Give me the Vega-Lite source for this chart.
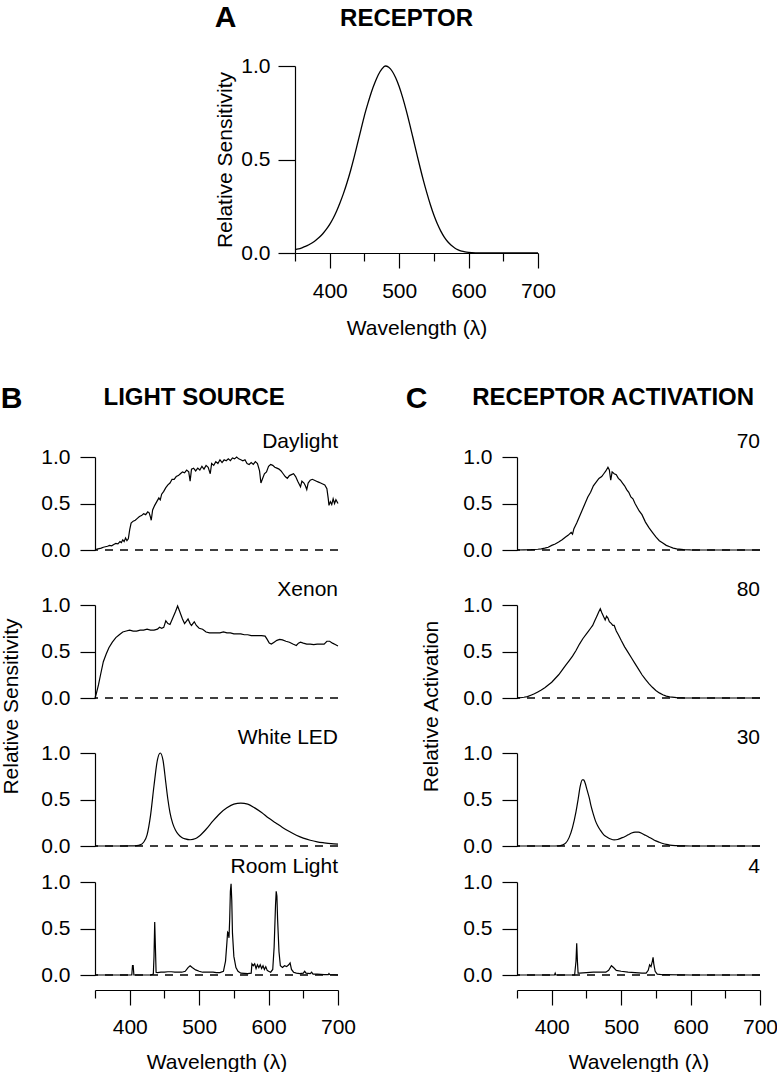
{
"$schema": "https://vega.github.io/schema/vega-lite/v6.json",
"padding": {"top": 3, "left": 0, "right": 0, "bottom": 0},
"config": {
  "font": "Liberation Sans",
  "view": {"stroke": null},
  "axis": {"domainColor": "#000", "tickColor": "#000", "labelColor": "#000", "titleColor": "#000", "labelFont": "Liberation Sans", "titleFont": "Liberation Sans", "labelFontSize": 21, "titleFontSize": 21, "titleFontWeight": "normal", "grid": false, "domainWidth": 1.2, "tickWidth": 1.2, "labelFlush": false, "labelOverlap": false},
  "axisY": {"tickSize": 15, "labelPadding": 10},
  "title": {"font": "Liberation Sans", "color": "#000", "fontSize": 21, "fontWeight": "normal"}
},
"datasets": {
  "receptor": [{"w":350,"v":0.018},{"w":355,"v":0.022},{"w":360,"v":0.028},{"w":365,"v":0.035},{"w":370,"v":0.044},{"w":375,"v":0.055},{"w":380,"v":0.068},{"w":385,"v":0.084},{"w":390,"v":0.103},{"w":395,"v":0.126},{"w":400,"v":0.153},{"w":405,"v":0.186},{"w":410,"v":0.225},{"w":415,"v":0.27},{"w":420,"v":0.32},{"w":425,"v":0.377},{"w":430,"v":0.44},{"w":435,"v":0.51},{"w":440,"v":0.585},{"w":445,"v":0.66},{"w":450,"v":0.735},{"w":455,"v":0.8},{"w":460,"v":0.86},{"w":465,"v":0.91},{"w":470,"v":0.953},{"w":475,"v":0.983},{"w":480,"v":1.0},{"w":485,"v":0.993},{"w":490,"v":0.972},{"w":495,"v":0.937},{"w":500,"v":0.89},{"w":505,"v":0.832},{"w":510,"v":0.765},{"w":515,"v":0.692},{"w":520,"v":0.615},{"w":525,"v":0.537},{"w":530,"v":0.46},{"w":535,"v":0.387},{"w":540,"v":0.32},{"w":545,"v":0.258},{"w":550,"v":0.203},{"w":555,"v":0.156},{"w":560,"v":0.117},{"w":565,"v":0.085},{"w":570,"v":0.06},{"w":575,"v":0.041},{"w":580,"v":0.027},{"w":585,"v":0.017},{"w":590,"v":0.01},{"w":595,"v":0.006},{"w":600,"v":0.0035},{"w":610,"v":0.001},{"w":620,"v":0.0003},{"w":650,"v":0},{"w":700,"v":0}],
  "daylight": [{"w":350,"v":0.0},{"w":353,"v":0.01},{"w":356,"v":0.015},{"w":359,"v":0.02},{"w":362,"v":0.03},{"w":365,"v":0.035},{"w":368,"v":0.04},{"w":371,"v":0.05},{"w":374,"v":0.045},{"w":377,"v":0.06},{"w":380,"v":0.07},{"w":383,"v":0.065},{"w":386,"v":0.09},{"w":388,"v":0.08},{"w":390,"v":0.11},{"w":392,"v":0.09},{"w":394,"v":0.13},{"w":396,"v":0.1},{"w":398,"v":0.12},{"w":400,"v":0.22},{"w":402,"v":0.29},{"w":405,"v":0.31},{"w":408,"v":0.32},{"w":411,"v":0.34},{"w":414,"v":0.36},{"w":417,"v":0.37},{"w":420,"v":0.39},{"w":423,"v":0.38},{"w":426,"v":0.41},{"w":428,"v":0.4},{"w":430,"v":0.35},{"w":431,"v":0.32},{"w":433,"v":0.43},{"w":436,"v":0.48},{"w":439,"v":0.52},{"w":442,"v":0.56},{"w":444,"v":0.54},{"w":446,"v":0.6},{"w":449,"v":0.63},{"w":452,"v":0.67},{"w":455,"v":0.7},{"w":458,"v":0.72},{"w":461,"v":0.76},{"w":464,"v":0.76},{"w":467,"v":0.79},{"w":470,"v":0.8},{"w":473,"v":0.82},{"w":476,"v":0.84},{"w":479,"v":0.83},{"w":482,"v":0.86},{"w":485,"v":0.84},{"w":487,"v":0.74},{"w":489,"v":0.87},{"w":492,"v":0.88},{"w":495,"v":0.85},{"w":498,"v":0.88},{"w":501,"v":0.86},{"w":504,"v":0.9},{"w":507,"v":0.87},{"w":510,"v":0.91},{"w":513,"v":0.89},{"w":516,"v":0.82},{"w":518,"v":0.93},{"w":521,"v":0.91},{"w":524,"v":0.95},{"w":527,"v":0.93},{"w":530,"v":0.97},{"w":533,"v":0.94},{"w":536,"v":0.97},{"w":539,"v":0.96},{"w":542,"v":0.98},{"w":545,"v":0.96},{"w":548,"v":0.99},{"w":551,"v":0.98},{"w":554,"v":1.0},{"w":557,"v":0.98},{"w":560,"v":0.97},{"w":563,"v":0.96},{"w":566,"v":0.97},{"w":569,"v":0.93},{"w":572,"v":0.92},{"w":575,"v":0.94},{"w":578,"v":0.92},{"w":581,"v":0.95},{"w":584,"v":0.93},{"w":587,"v":0.85},{"w":589,"v":0.72},{"w":591,"v":0.76},{"w":594,"v":0.82},{"w":597,"v":0.84},{"w":600,"v":0.9},{"w":603,"v":0.92},{"w":606,"v":0.91},{"w":609,"v":0.89},{"w":612,"v":0.88},{"w":615,"v":0.87},{"w":618,"v":0.85},{"w":621,"v":0.82},{"w":624,"v":0.79},{"w":627,"v":0.77},{"w":630,"v":0.8},{"w":633,"v":0.81},{"w":636,"v":0.82},{"w":639,"v":0.79},{"w":642,"v":0.74},{"w":644,"v":0.71},{"w":646,"v":0.68},{"w":648,"v":0.74},{"w":651,"v":0.72},{"w":653,"v":0.69},{"w":655,"v":0.65},{"w":657,"v":0.72},{"w":660,"v":0.75},{"w":663,"v":0.76},{"w":666,"v":0.75},{"w":669,"v":0.74},{"w":672,"v":0.73},{"w":675,"v":0.72},{"w":678,"v":0.71},{"w":681,"v":0.7},{"w":684,"v":0.66},{"w":686,"v":0.55},{"w":687,"v":0.48},{"w":689,"v":0.52},{"w":691,"v":0.49},{"w":693,"v":0.55},{"w":695,"v":0.5},{"w":697,"v":0.54},{"w":700,"v":0.5}],
  "xenon": [{"w":350,"v":0.0},{"w":352,"v":0.05},{"w":355,"v":0.14},{"w":358,"v":0.25},{"w":362,"v":0.39},{"w":366,"v":0.47},{"w":370,"v":0.54},{"w":375,"v":0.6},{"w":380,"v":0.65},{"w":385,"v":0.68},{"w":390,"v":0.71},{"w":395,"v":0.72},{"w":400,"v":0.73},{"w":405,"v":0.72},{"w":410,"v":0.72},{"w":415,"v":0.73},{"w":420,"v":0.73},{"w":425,"v":0.74},{"w":430,"v":0.73},{"w":435,"v":0.73},{"w":440,"v":0.74},{"w":443,"v":0.76},{"w":446,"v":0.75},{"w":449,"v":0.76},{"w":452,"v":0.83},{"w":455,"v":0.8},{"w":458,"v":0.79},{"w":462,"v":0.86},{"w":466,"v":0.93},{"w":469,"v":0.99},{"w":472,"v":0.93},{"w":476,"v":0.85},{"w":479,"v":0.8},{"w":482,"v":0.83},{"w":484,"v":0.85},{"w":487,"v":0.8},{"w":489,"v":0.78},{"w":491,"v":0.8},{"w":493,"v":0.82},{"w":496,"v":0.78},{"w":500,"v":0.75},{"w":505,"v":0.74},{"w":510,"v":0.71},{"w":515,"v":0.7},{"w":520,"v":0.7},{"w":525,"v":0.7},{"w":530,"v":0.7},{"w":535,"v":0.71},{"w":540,"v":0.7},{"w":545,"v":0.7},{"w":550,"v":0.69},{"w":555,"v":0.69},{"w":560,"v":0.69},{"w":565,"v":0.68},{"w":570,"v":0.68},{"w":575,"v":0.67},{"w":580,"v":0.67},{"w":585,"v":0.67},{"w":590,"v":0.67},{"w":595,"v":0.665},{"w":598,"v":0.63},{"w":601,"v":0.59},{"w":604,"v":0.58},{"w":608,"v":0.6},{"w":612,"v":0.62},{"w":616,"v":0.63},{"w":620,"v":0.625},{"w":625,"v":0.61},{"w":630,"v":0.6},{"w":635,"v":0.58},{"w":640,"v":0.565},{"w":643,"v":0.59},{"w":646,"v":0.6},{"w":650,"v":0.59},{"w":655,"v":0.58},{"w":660,"v":0.58},{"w":665,"v":0.575},{"w":670,"v":0.58},{"w":675,"v":0.58},{"w":680,"v":0.58},{"w":684,"v":0.61},{"w":688,"v":0.61},{"w":692,"v":0.59},{"w":696,"v":0.575},{"w":700,"v":0.56}],
  "led": [{"w":350,"v":0},{"w":380,"v":0},{"w":400,"v":0.002},{"w":410,"v":0.005},{"w":415,"v":0.012},{"w":420,"v":0.04},{"w":425,"v":0.12},{"w":430,"v":0.33},{"w":435,"v":0.65},{"w":440,"v":0.93},{"w":444,"v":1.0},{"w":448,"v":0.92},{"w":452,"v":0.68},{"w":455,"v":0.5},{"w":458,"v":0.36},{"w":462,"v":0.24},{"w":466,"v":0.17},{"w":470,"v":0.125},{"w":475,"v":0.092},{"w":480,"v":0.076},{"w":487,"v":0.067},{"w":495,"v":0.08},{"w":500,"v":0.105},{"w":510,"v":0.18},{"w":520,"v":0.27},{"w":530,"v":0.35},{"w":540,"v":0.41},{"w":550,"v":0.45},{"w":560,"v":0.46},{"w":570,"v":0.45},{"w":580,"v":0.41},{"w":590,"v":0.36},{"w":600,"v":0.3},{"w":610,"v":0.25},{"w":620,"v":0.2},{"w":630,"v":0.155},{"w":640,"v":0.115},{"w":650,"v":0.085},{"w":660,"v":0.062},{"w":670,"v":0.045},{"w":680,"v":0.034},{"w":690,"v":0.025},{"w":700,"v":0.02}],
  "room": [{"w":350,"v":0.0},{"w":403,"v":0.0},{"w":404,"v":0.1},{"w":405,"v":0.1},{"w":406,"v":0.0},{"w":430,"v":0.0},{"w":434,"v":0.01},{"w":435,"v":0.2},{"w":436,"v":0.57},{"w":437,"v":0.3},{"w":438,"v":0.03},{"w":440,"v":0.025},{"w":445,"v":0.03},{"w":450,"v":0.03},{"w":455,"v":0.035},{"w":460,"v":0.035},{"w":465,"v":0.03},{"w":470,"v":0.03},{"w":475,"v":0.03},{"w":480,"v":0.04},{"w":484,"v":0.08},{"w":487,"v":0.1},{"w":490,"v":0.08},{"w":495,"v":0.055},{"w":500,"v":0.04},{"w":505,"v":0.03},{"w":510,"v":0.03},{"w":515,"v":0.03},{"w":520,"v":0.03},{"w":525,"v":0.025},{"w":530,"v":0.025},{"w":535,"v":0.04},{"w":538,"v":0.15},{"w":540,"v":0.35},{"w":541,"v":0.46},{"w":542,"v":0.45},{"w":543,"v":0.4},{"w":544,"v":0.6},{"w":545,"v":0.9},{"w":546,"v":0.98},{"w":547,"v":0.8},{"w":548,"v":0.45},{"w":550,"v":0.2},{"w":553,"v":0.08},{"w":556,"v":0.04},{"w":560,"v":0.02},{"w":570,"v":0.015},{"w":575,"v":0.02},{"w":576,"v":0.12},{"w":578,"v":0.1},{"w":580,"v":0.12},{"w":582,"v":0.07},{"w":584,"v":0.11},{"w":586,"v":0.08},{"w":588,"v":0.11},{"w":590,"v":0.07},{"w":592,"v":0.1},{"w":594,"v":0.06},{"w":596,"v":0.09},{"w":598,"v":0.05},{"w":600,"v":0.04},{"w":603,"v":0.03},{"w":606,"v":0.06},{"w":608,"v":0.3},{"w":610,"v":0.75},{"w":611,"v":0.9},{"w":612,"v":0.85},{"w":613,"v":0.6},{"w":615,"v":0.25},{"w":617,"v":0.1},{"w":620,"v":0.08},{"w":623,"v":0.1},{"w":626,"v":0.09},{"w":629,"v":0.11},{"w":631,"v":0.13},{"w":633,"v":0.06},{"w":636,"v":0.03},{"w":640,"v":0.02},{"w":645,"v":0.015},{"w":650,"v":0.02},{"w":652,"v":0.04},{"w":654,"v":0.02},{"w":660,"v":0.015},{"w":662,"v":0.03},{"w":664,"v":0.01},{"w":670,"v":0.01},{"w":680,"v":0.005},{"w":686,"v":0.005},{"w":687,"v":0.015},{"w":688,"v":0.005},{"w":700,"v":0.0}],
  "act70": [{"w":350,"v":0},{"w":360,"v":0.001},{"w":370,"v":0.003},{"w":380,"v":0.008},{"w":385,"v":0.012},{"w":390,"v":0.02},{"w":395,"v":0.03},{"w":400,"v":0.05},{"w":405,"v":0.065},{"w":410,"v":0.085},{"w":415,"v":0.11},{"w":420,"v":0.14},{"w":424,"v":0.16},{"w":428,"v":0.19},{"w":430,"v":0.17},{"w":432,"v":0.23},{"w":436,"v":0.29},{"w":440,"v":0.36},{"w":444,"v":0.43},{"w":448,"v":0.5},{"w":452,"v":0.57},{"w":456,"v":0.62},{"w":460,"v":0.69},{"w":464,"v":0.73},{"w":468,"v":0.77},{"w":472,"v":0.79},{"w":475,"v":0.82},{"w":478,"v":0.85},{"w":481,"v":0.89},{"w":483,"v":0.86},{"w":485,"v":0.75},{"w":487,"v":0.84},{"w":490,"v":0.82},{"w":493,"v":0.81},{"w":496,"v":0.77},{"w":499,"v":0.75},{"w":502,"v":0.72},{"w":505,"v":0.69},{"w":508,"v":0.65},{"w":511,"v":0.62},{"w":514,"v":0.57},{"w":517,"v":0.55},{"w":520,"v":0.5},{"w":523,"v":0.46},{"w":526,"v":0.42},{"w":530,"v":0.38},{"w":535,"v":0.3},{"w":540,"v":0.24},{"w":545,"v":0.19},{"w":550,"v":0.14},{"w":555,"v":0.1},{"w":560,"v":0.075},{"w":565,"v":0.05},{"w":570,"v":0.035},{"w":575,"v":0.02},{"w":580,"v":0.012},{"w":590,"v":0.004},{"w":600,"v":0.001},{"w":620,"v":0},{"w":700,"v":0}],
  "act80": [{"w":350,"v":0},{"w":355,"v":0.003},{"w":360,"v":0.008},{"w":365,"v":0.015},{"w":370,"v":0.03},{"w":375,"v":0.045},{"w":380,"v":0.065},{"w":385,"v":0.085},{"w":390,"v":0.11},{"w":395,"v":0.14},{"w":400,"v":0.17},{"w":405,"v":0.21},{"w":410,"v":0.25},{"w":415,"v":0.3},{"w":420,"v":0.35},{"w":425,"v":0.4},{"w":430,"v":0.45},{"w":435,"v":0.51},{"w":440,"v":0.58},{"w":445,"v":0.64},{"w":450,"v":0.69},{"w":453,"v":0.72},{"w":456,"v":0.75},{"w":459,"v":0.78},{"w":462,"v":0.83},{"w":465,"v":0.88},{"w":468,"v":0.93},{"w":470,"v":0.96},{"w":472,"v":0.92},{"w":475,"v":0.87},{"w":477,"v":0.84},{"w":479,"v":0.88},{"w":481,"v":0.86},{"w":483,"v":0.82},{"w":486,"v":0.8},{"w":488,"v":0.78},{"w":490,"v":0.78},{"w":493,"v":0.72},{"w":496,"v":0.68},{"w":500,"v":0.62},{"w":505,"v":0.55},{"w":510,"v":0.49},{"w":515,"v":0.43},{"w":520,"v":0.37},{"w":525,"v":0.31},{"w":530,"v":0.25},{"w":535,"v":0.2},{"w":540,"v":0.155},{"w":545,"v":0.115},{"w":550,"v":0.08},{"w":555,"v":0.055},{"w":560,"v":0.035},{"w":565,"v":0.02},{"w":570,"v":0.012},{"w":580,"v":0.004},{"w":590,"v":0.001},{"w":600,"v":0},{"w":700,"v":0}],
  "act30": [{"w":350,"v":0},{"w":400,"v":0},{"w":410,"v":0.002},{"w":415,"v":0.01},{"w":420,"v":0.03},{"w":425,"v":0.09},{"w":430,"v":0.2},{"w":435,"v":0.37},{"w":438,"v":0.5},{"w":441,"v":0.64},{"w":444,"v":0.71},{"w":446,"v":0.71},{"w":448,"v":0.68},{"w":451,"v":0.6},{"w":454,"v":0.52},{"w":457,"v":0.42},{"w":460,"v":0.34},{"w":463,"v":0.27},{"w":466,"v":0.22},{"w":470,"v":0.17},{"w":475,"v":0.12},{"w":480,"v":0.095},{"w":485,"v":0.075},{"w":490,"v":0.065},{"w":495,"v":0.07},{"w":500,"v":0.085},{"w":505,"v":0.1},{"w":510,"v":0.12},{"w":515,"v":0.14},{"w":520,"v":0.15},{"w":525,"v":0.15},{"w":530,"v":0.135},{"w":535,"v":0.115},{"w":540,"v":0.095},{"w":545,"v":0.075},{"w":550,"v":0.055},{"w":555,"v":0.04},{"w":560,"v":0.027},{"w":565,"v":0.017},{"w":570,"v":0.01},{"w":580,"v":0.004},{"w":590,"v":0.001},{"w":600,"v":0},{"w":700,"v":0}],
  "act4": [{"w":350,"v":0},{"w":404,"v":0.0},{"w":405,"v":0.02},{"w":406,"v":0.0},{"w":433,"v":0.0},{"w":435,"v":0.15},{"w":436,"v":0.34},{"w":437,"v":0.15},{"w":438,"v":0.02},{"w":440,"v":0.02},{"w":450,"v":0.025},{"w":460,"v":0.03},{"w":470,"v":0.03},{"w":478,"v":0.03},{"w":482,"v":0.05},{"w":486,"v":0.1},{"w":489,"v":0.08},{"w":493,"v":0.05},{"w":500,"v":0.04},{"w":510,"v":0.03},{"w":520,"v":0.025},{"w":530,"v":0.02},{"w":536,"v":0.02},{"w":539,"v":0.05},{"w":541,"v":0.11},{"w":543,"v":0.09},{"w":545,"v":0.15},{"w":546,"v":0.19},{"w":547,"v":0.12},{"w":549,"v":0.04},{"w":552,"v":0.01},{"w":560,"v":0.003},{"w":600,"v":0},{"w":700,"v":0}]
},
"spacing": 45,
"vconcat": [
  {
    "spacing": 0,
    "hconcat": [
      {"width": 119, "height": 1, "data": {"values": []}, "mark": "point"},
      {
        "title": {"text": "A", "anchor": "start", "frame": "bounds", "fontSize": 30, "fontWeight": "bold", "offset": 0, "dy": 26, "dx": 0},
        "vconcat": [
          {
            "title": {"text": "RECEPTOR", "anchor": "middle", "frame": "group", "fontSize": 24, "fontWeight": "bold", "offset": 24, "dx": -10},
            "width": 243, "height": 187,
            "data": {"name": "receptor"},
            "mark": {"type": "line", "color": "#000", "strokeWidth": 1.3, "interpolate": "monotone"},
            "encoding": {
              "x": {"field": "w", "type": "quantitative", "scale": {"domain": [350, 700], "nice": false, "zero": false},
                    "axis": {"title": "Wavelength (λ)", "values": [350,400,450,500,550,600,650,700], "format": "d", "labelExpr": "datum.value % 100 === 0 ? datum.label : ''", "tickSize": {"condition": {"test": "datum.value % 100 === 0", "value": 15}, "value": 8}, "labelPadding": 12.5, "titlePadding": 16}},
              "y": {"field": "v", "type": "quantitative", "scale": {"domain": [0, 1], "nice": false},
                    "axis": {"title": "Relative Sensitivity", "values": [0, 0.5, 1], "format": ".1f", "labelPadding": 8, "tickSize": 17, "titlePadding": 5}}
            }
          }
        ]
      }
    ]
  },
  {
    "spacing": 49,
    "hconcat": [
      {
        "title": {"text": "B", "anchor": "start", "frame": "bounds", "fontSize": 30, "fontWeight": "bold", "offset": 0, "dy": 28},
        "vconcat": [
          {
            "title": {"text": "LIGHT SOURCE", "anchor": "middle", "frame": "bounds", "fontSize": 24, "fontWeight": "bold", "offset": 21, "dx": 16},
            "vconcat": [
              {
                "title": {"text": "Relative Sensitivity", "orient": "left", "anchor": "middle", "frame": "bounds", "fontSize": 21, "offset": -2, "baseline": "bottom", "dx": 45},
                "spacing": 0,
                "vconcat": [
                  {
                    "spacing": 19,
                    "vconcat": [
                      {"title": {"text": "Daylight", "anchor": "end", "frame": "group", "offset": -6}, "width": 243, "height": 93,
                       "layer": [
                         {"data": {"values": [{}]}, "mark": {"type": "rule", "strokeDash": [8, 7], "color": "#000", "strokeWidth": 1.4}, "encoding": {"y": {"datum": 0, "type": "quantitative"}}},
                         {"data": {"name": "daylight"}, "mark": {"type": "line", "color": "#000", "strokeWidth": 1.2}, "encoding": {"x": {"field": "w", "type": "quantitative", "scale": {"domain": [350, 700], "nice": false, "zero": false}, "axis": null}, "y": {"field": "v", "type": "quantitative", "scale": {"domain": [0, 1], "nice": false}, "axis": {"values": [0, 0.5, 1], "format": ".1f", "title": null}}}}
                       ]},
                      {"title": {"text": "Xenon", "anchor": "end", "frame": "group", "offset": -6}, "width": 243, "height": 93,
                       "layer": [
                         {"data": {"values": [{}]}, "mark": {"type": "rule", "strokeDash": [8, 7], "color": "#000", "strokeWidth": 1.4}, "encoding": {"y": {"datum": 0, "type": "quantitative"}}},
                         {"data": {"name": "xenon"}, "mark": {"type": "line", "color": "#000", "strokeWidth": 1.2}, "encoding": {"x": {"field": "w", "type": "quantitative", "scale": {"domain": [350, 700], "nice": false, "zero": false}, "axis": null}, "y": {"field": "v", "type": "quantitative", "scale": {"domain": [0, 1], "nice": false}, "axis": {"values": [0, 0.5, 1], "format": ".1f", "title": null}}}}
                       ]},
                      {"title": {"text": "White LED", "anchor": "end", "frame": "group", "offset": -6}, "width": 243, "height": 93,
                       "layer": [
                         {"data": {"values": [{}]}, "mark": {"type": "rule", "strokeDash": [8, 7], "color": "#000", "strokeWidth": 1.4}, "encoding": {"y": {"datum": 0, "type": "quantitative"}}},
                         {"data": {"name": "led"}, "mark": {"type": "line", "color": "#000", "strokeWidth": 1.2, "interpolate": "monotone"}, "encoding": {"x": {"field": "w", "type": "quantitative", "scale": {"domain": [350, 700], "nice": false, "zero": false}, "axis": null}, "y": {"field": "v", "type": "quantitative", "scale": {"domain": [0, 1], "nice": false}, "axis": {"values": [0, 0.5, 1], "format": ".1f", "title": null}}}}
                       ]}
                    ]
                  },
                  {"title": {"text": "Room Light", "anchor": "end", "frame": "group", "offset": -6}, "width": 243, "height": 93,
                   "layer": [
                     {"data": {"values": [{}]}, "mark": {"type": "rule", "strokeDash": [8, 7], "color": "#000", "strokeWidth": 1.4}, "encoding": {"y": {"datum": 0, "type": "quantitative"}}},
                     {"data": {"name": "room"}, "mark": {"type": "line", "color": "#000", "strokeWidth": 1.2}, "encoding": {"x": {"field": "w", "type": "quantitative", "scale": {"domain": [350, 700], "nice": false, "zero": false}, "axis": {"title": "Wavelength (λ)", "values": [350,400,450,500,550,600,650,700], "format": "d", "labelExpr": "datum.value % 100 === 0 ? datum.label : ''", "tickSize": {"condition": {"test": "datum.value % 100 === 0", "value": 15}, "value": 8}, "offset": 15, "labelPadding": 11.5, "titlePadding": 13.5}}, "y": {"field": "v", "type": "quantitative", "scale": {"domain": [0, 1], "nice": false}, "axis": {"values": [0, 0.5, 1], "format": ".1f", "title": null}}}}
                   ]}
                ]
              }
            ]
          }
        ]
      },
      {
        "title": {"text": "C", "anchor": "start", "frame": "bounds", "fontSize": 30, "fontWeight": "bold", "offset": 0, "dy": 28, "dx": -15},
        "vconcat": [
          {
            "title": {"text": "RECEPTOR ACTIVATION", "anchor": "middle", "frame": "bounds", "fontSize": 24, "fontWeight": "bold", "offset": 21, "dx": 14},
            "vconcat": [
              {
                "title": {"text": "Relative Activation", "orient": "left", "anchor": "middle", "frame": "bounds", "fontSize": 21, "offset": 0, "baseline": "bottom", "dx": 45},
                "spacing": 0,
                "vconcat": [
                  {
                    "spacing": 19,
                    "vconcat": [
                      {"title": {"text": "70", "anchor": "end", "frame": "group", "offset": -6}, "width": 243, "height": 93,
                       "layer": [
                         {"data": {"values": [{}]}, "mark": {"type": "rule", "strokeDash": [8, 7], "color": "#000", "strokeWidth": 1.4}, "encoding": {"y": {"datum": 0, "type": "quantitative"}}},
                         {"data": {"name": "act70"}, "mark": {"type": "line", "color": "#000", "strokeWidth": 1.2}, "encoding": {"x": {"field": "w", "type": "quantitative", "scale": {"domain": [350, 700], "nice": false, "zero": false}, "axis": null}, "y": {"field": "v", "type": "quantitative", "scale": {"domain": [0, 1], "nice": false}, "axis": {"values": [0, 0.5, 1], "format": ".1f", "title": null}}}}
                       ]},
                      {"title": {"text": "80", "anchor": "end", "frame": "group", "offset": -6}, "width": 243, "height": 93,
                       "layer": [
                         {"data": {"values": [{}]}, "mark": {"type": "rule", "strokeDash": [8, 7], "color": "#000", "strokeWidth": 1.4}, "encoding": {"y": {"datum": 0, "type": "quantitative"}}},
                         {"data": {"name": "act80"}, "mark": {"type": "line", "color": "#000", "strokeWidth": 1.2}, "encoding": {"x": {"field": "w", "type": "quantitative", "scale": {"domain": [350, 700], "nice": false, "zero": false}, "axis": null}, "y": {"field": "v", "type": "quantitative", "scale": {"domain": [0, 1], "nice": false}, "axis": {"values": [0, 0.5, 1], "format": ".1f", "title": null}}}}
                       ]},
                      {"title": {"text": "30", "anchor": "end", "frame": "group", "offset": -6}, "width": 243, "height": 93,
                       "layer": [
                         {"data": {"values": [{}]}, "mark": {"type": "rule", "strokeDash": [8, 7], "color": "#000", "strokeWidth": 1.4}, "encoding": {"y": {"datum": 0, "type": "quantitative"}}},
                         {"data": {"name": "act30"}, "mark": {"type": "line", "color": "#000", "strokeWidth": 1.2, "interpolate": "monotone"}, "encoding": {"x": {"field": "w", "type": "quantitative", "scale": {"domain": [350, 700], "nice": false, "zero": false}, "axis": null}, "y": {"field": "v", "type": "quantitative", "scale": {"domain": [0, 1], "nice": false}, "axis": {"values": [0, 0.5, 1], "format": ".1f", "title": null}}}}
                       ]}
                    ]
                  },
                  {"title": {"text": "4", "anchor": "end", "frame": "group", "offset": -6}, "width": 243, "height": 93,
                   "layer": [
                     {"data": {"values": [{}]}, "mark": {"type": "rule", "strokeDash": [8, 7], "color": "#000", "strokeWidth": 1.4}, "encoding": {"y": {"datum": 0, "type": "quantitative"}}},
                     {"data": {"name": "act4"}, "mark": {"type": "line", "color": "#000", "strokeWidth": 1.2}, "encoding": {"x": {"field": "w", "type": "quantitative", "scale": {"domain": [350, 700], "nice": false, "zero": false}, "axis": {"title": "Wavelength (λ)", "values": [350,400,450,500,550,600,650,700], "format": "d", "labelExpr": "datum.value % 100 === 0 ? datum.label : ''", "tickSize": {"condition": {"test": "datum.value % 100 === 0", "value": 15}, "value": 8}, "offset": 15, "labelPadding": 11.5, "titlePadding": 13.5}}, "y": {"field": "v", "type": "quantitative", "scale": {"domain": [0, 1], "nice": false}, "axis": {"values": [0, 0.5, 1], "format": ".1f", "title": null}}}}
                   ]}
                ]
              }
            ]
          }
        ]
      }
    ]
  }
]
}
